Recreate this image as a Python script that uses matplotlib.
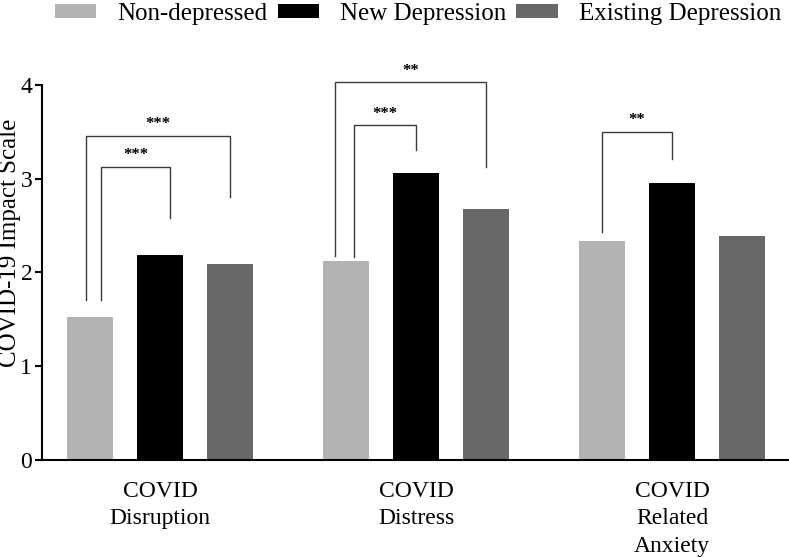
import numpy as np
from matplotlib import pyplot as plt

plt.rcParams['font.family'] = ['Liberation Serif', 'DejaVu Serif']

# Data
categories = ["COVID\nDisruption", "COVID\nDistress", "COVID\nRelated\nAnxiety"]
groups = ["Non-depressed", "New Depression", "Existing Depression"]
non_depressed = [1.53, 2.12, 2.34]
new_depression = [2.19, 3.06, 2.95]
existing_depression = [2.09, 2.68, 2.39]
colors = ["#b3b3b3", "#000000", "#686868"]

# significance brackets: (category, bar a, bar b, top, bottom a, bottom b, label)
brackets = [
    (0, 0, 2, 3.46, 1.71, 2.81, "***"),
    (0, 0, 1, 3.13, 1.71, 2.58, "***"),
    (1, 0, 2, 4.03, 2.18, 3.13, "**"),
    (1, 0, 1, 3.57, 2.17, 3.31, "***"),
    (2, 0, 1, 3.50, 2.43, 3.21, "**"),
]
bracket_dx = [(-0.016, 0.0), (0.043, 0.039), (-0.043, 0.0), (0.031, 0.0), (0.0, 0.0)]

fig = plt.figure(figsize=(7.89, 5.57), dpi=100)
ax = fig.add_axes([42 / 789, 1 - 460 / 557, 747 / 789, 421.9 / 557])

x = np.arange(len(categories))
offset = 0.2734
width = 0.1824
series = [non_depressed, new_depression, existing_depression]
for i, (vals, name) in enumerate(zip(series, groups)):
    ax.bar(x + (i - 1) * offset, vals, width, color=colors[i], label=name)

for (c, a, b, top, ya, yb, lab), (da, db) in zip(brackets, bracket_dx):
    xa = c + (a - 1) * offset + da
    xb = c + (b - 1) * offset + db
    ax.plot([xa, xa, xb, xb], [ya, top, top, yb], color="#3a3a3a", lw=1.0,
            clip_on=False, solid_joinstyle='miter')
    ax.text((xa + xb) / 2, top + 0.08, lab, ha='center', va='baseline',
            fontsize=12, fontweight='bold')

ax.set_xlim(-0.461, 2.457)
ax.set_ylim(0, 4.5)
ax.set_yticks([0, 1, 2, 3, 4])
ax.set_xticks(x)
ax.set_xticklabels(categories, fontsize=17, linespacing=1.4)
ax.tick_params(axis='x', length=0, pad=15)
ax.tick_params(axis='y', labelsize=17, length=5, width=1.5, pad=2)
ax.set_ylabel("COVID-19 Impact Scale", fontsize=18)
ax.yaxis.set_label_coords(-0.028, 0.514)

ax.spines['top'].set_visible(False)
ax.spines['right'].set_visible(False)
ax.spines['left'].set_bounds(0, 4)
ax.spines['left'].set_linewidth(1.5)
ax.spines['bottom'].set_linewidth(1.5)

fig.legend(loc='upper center', bbox_to_anchor=(418 / 789, 1.035), ncol=3,
           frameon=False, fontsize=18, handlelength=1.65, handleheight=0.45,
           handletextpad=0.85, columnspacing=0.4)

plt.savefig("out.png", dpi=100)
